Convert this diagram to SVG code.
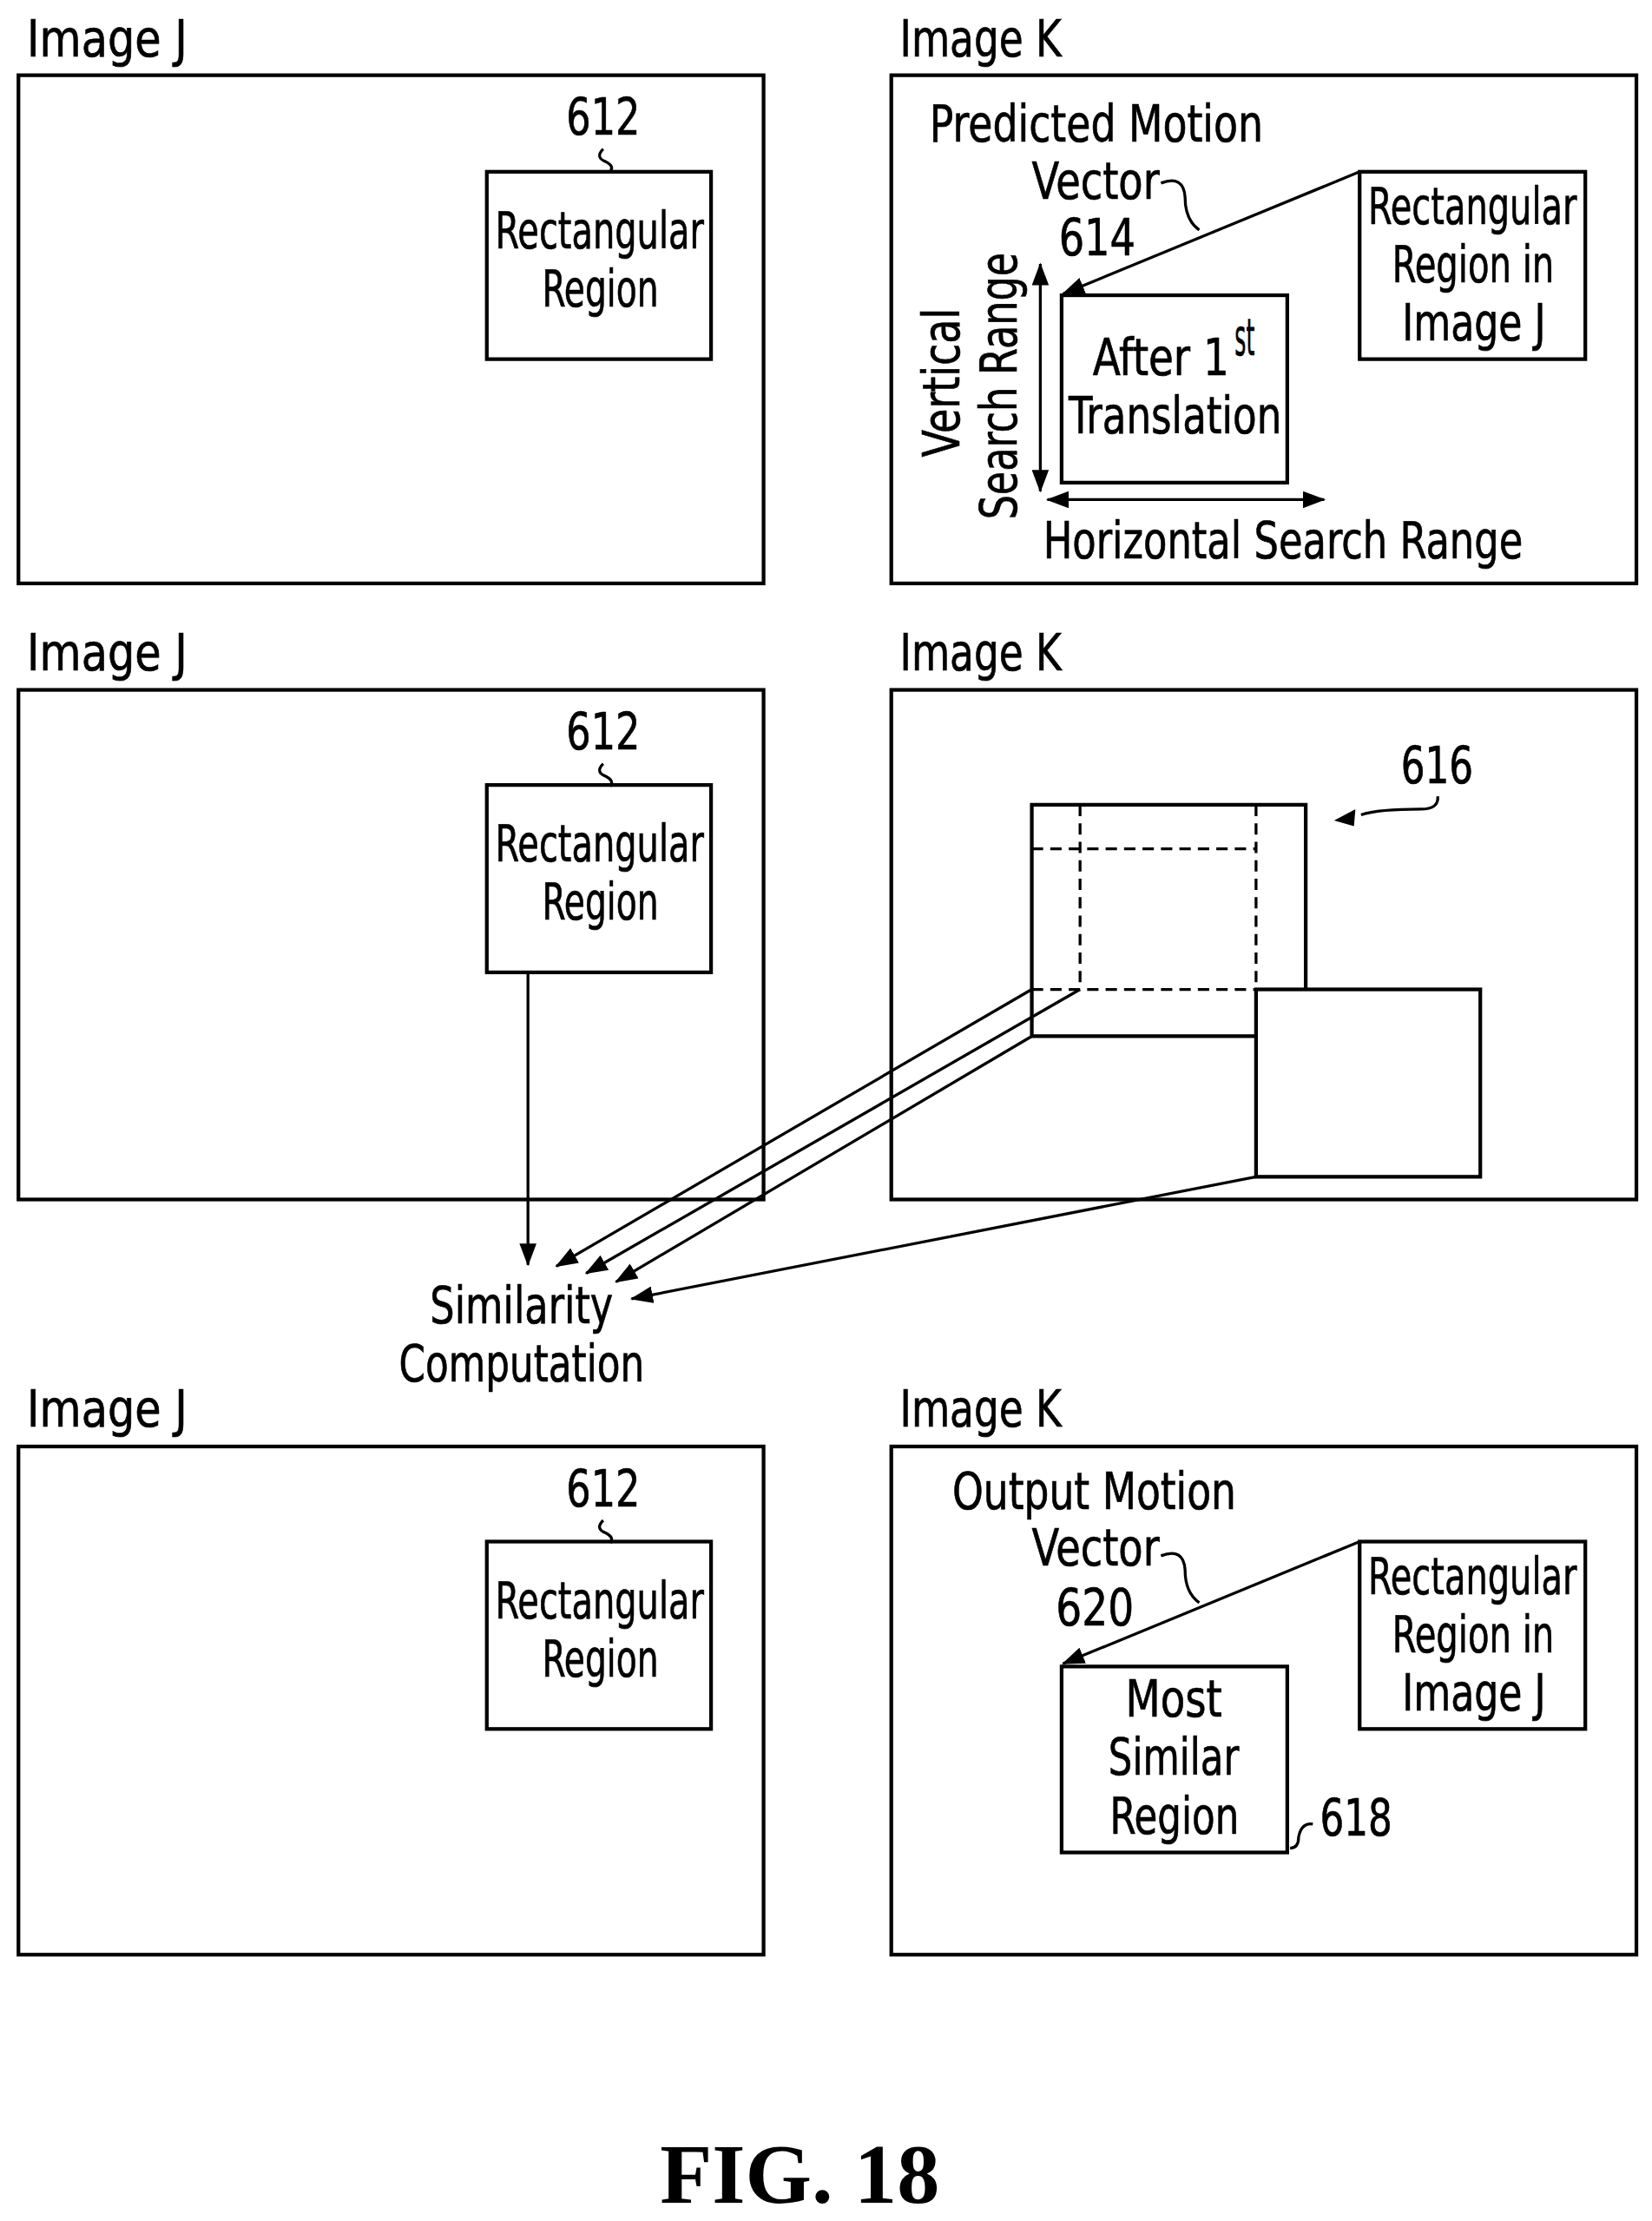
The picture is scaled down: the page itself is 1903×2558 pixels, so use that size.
<svg xmlns="http://www.w3.org/2000/svg" width="1903" height="2558" viewBox="0 0 1903 2558">
<style>
.b{fill:none;stroke:#000;stroke-width:2.6}
.l{fill:none;stroke:#000;stroke-width:2}
.d{fill:none;stroke:#000;stroke-width:2;stroke-dasharray:8,5}
text{font-family:"DejaVu Sans Condensed","DejaVu Sans",sans-serif;font-size:36px;fill:#000;stroke:#000;stroke-width:0.4}
.f{font-family:"Liberation Serif",serif;font-weight:bold;font-size:60px;stroke:none}
</style>
<defs>
<marker id="a" markerUnits="userSpaceOnUse" markerWidth="16" markerHeight="12" refX="15" refY="6" orient="auto-start-reverse"><path d="M0,0 L16,6 L0,12 z" fill="#000"/></marker>
</defs>
<rect width="1903" height="2558" fill="#fff"/>
<g transform="scale(1.6349)">
<g id="j1">
<text x="19" y="40" textLength="113" lengthAdjust="spacingAndGlyphs">Image J</text>
<rect class="b" x="13" y="53" width="525" height="358"/>
<text x="399" y="95" textLength="52" lengthAdjust="spacingAndGlyphs">612</text>
<path class="l" d="M425,105 q-6,6 2,9 q6,3 3,7"/>
<rect class="b" x="343" y="121" width="158" height="132"/>
<text x="349" y="175" textLength="147" lengthAdjust="spacingAndGlyphs">Rectangular</text>
<text x="382" y="216" textLength="82" lengthAdjust="spacingAndGlyphs">Region</text>
</g>
<g id="k1">
<text x="634" y="40" textLength="114" lengthAdjust="spacingAndGlyphs">Image K</text>
<rect class="b" x="628" y="53" width="525" height="358"/>
<text x="655" y="100" textLength="235" lengthAdjust="spacingAndGlyphs">Predicted Motion</text>
<text x="727" y="140" textLength="90" lengthAdjust="spacingAndGlyphs">Vector</text>
<text x="746" y="180" textLength="54" lengthAdjust="spacingAndGlyphs">614</text>
<path class="l" d="M818,129 q16,-6 17,10 q0,16 10,23"/>
<rect class="b" x="958" y="121" width="159" height="132"/>
<text x="964" y="158" textLength="147" lengthAdjust="spacingAndGlyphs">Rectangular</text>
<text x="981" y="199" textLength="114" lengthAdjust="spacingAndGlyphs">Region in</text>
<text x="988" y="240" textLength="101" lengthAdjust="spacingAndGlyphs">Image J</text>
<rect class="b" x="748" y="208" width="159" height="132"/>
<text x="770" y="264" textLength="96" lengthAdjust="spacingAndGlyphs">After 1</text>
<text x="870" y="250" font-size="18" textLength="14" lengthAdjust="spacingAndGlyphs">st</text>
<text x="753" y="305" textLength="150" lengthAdjust="spacingAndGlyphs">Translation</text>
<text x="735" y="393" textLength="338" lengthAdjust="spacingAndGlyphs">Horizontal Search Range</text>
<text transform="translate(676,322) rotate(-90)" textLength="105" lengthAdjust="spacingAndGlyphs">Vertical</text>
<text transform="translate(716,366) rotate(-90)" textLength="188" lengthAdjust="spacingAndGlyphs">Search Range</text>
</g>
<g id="j2">
<text x="19" y="472" textLength="113" lengthAdjust="spacingAndGlyphs">Image J</text>
<rect class="b" x="13" y="486" width="525" height="359"/>
<text x="399" y="528" textLength="52" lengthAdjust="spacingAndGlyphs">612</text>
<path class="l" d="M425,538 q-6,6 2,9 q6,3 3,7"/>
<rect class="b" x="343" y="553" width="158" height="132"/>
<text x="349" y="607" textLength="147" lengthAdjust="spacingAndGlyphs">Rectangular</text>
<text x="382" y="648" textLength="82" lengthAdjust="spacingAndGlyphs">Region</text>
</g>
<g id="k2">
<text x="634" y="472" textLength="114" lengthAdjust="spacingAndGlyphs">Image K</text>
<rect class="b" x="628" y="486" width="525" height="359"/>
<path class="b" d="M920,697 V567 H727 V730 H885"/>
<rect class="b" x="885" y="697" width="158" height="132"/>
<path class="d" d="M761,567 V697 M885,567 V697 M727,598 H885 M727,697 H885"/>
<text x="987" y="552" textLength="51" lengthAdjust="spacingAndGlyphs">616</text>
</g>
<g id="j3">
<text x="19" y="1005" textLength="113" lengthAdjust="spacingAndGlyphs">Image J</text>
<rect class="b" x="13" y="1019" width="525" height="358"/>
<text x="399" y="1061" textLength="52" lengthAdjust="spacingAndGlyphs">612</text>
<path class="l" d="M425,1071 q-6,6 2,9 q6,3 3,7"/>
<rect class="b" x="343" y="1086" width="158" height="132"/>
<text x="349" y="1140" textLength="147" lengthAdjust="spacingAndGlyphs">Rectangular</text>
<text x="382" y="1181" textLength="82" lengthAdjust="spacingAndGlyphs">Region</text>
</g>
<g id="k3">
<text x="634" y="1005" textLength="114" lengthAdjust="spacingAndGlyphs">Image K</text>
<rect class="b" x="628" y="1019" width="525" height="358"/>
<text x="671" y="1063" textLength="200" lengthAdjust="spacingAndGlyphs">Output Motion</text>
<text x="727" y="1103" textLength="90" lengthAdjust="spacingAndGlyphs">Vector</text>
<text x="744" y="1145" textLength="55" lengthAdjust="spacingAndGlyphs">620</text>
<path class="l" d="M818,1096 q16,-6 17,10 q0,16 10,23"/>
<rect class="b" x="958" y="1086" width="159" height="132"/>
<text x="964" y="1123" textLength="147" lengthAdjust="spacingAndGlyphs">Rectangular</text>
<text x="981" y="1164" textLength="114" lengthAdjust="spacingAndGlyphs">Region in</text>
<text x="988" y="1205" textLength="101" lengthAdjust="spacingAndGlyphs">Image J</text>
<rect class="b" x="748" y="1174" width="159" height="131"/>
<text x="793" y="1209" textLength="68" lengthAdjust="spacingAndGlyphs">Most</text>
<text x="781" y="1250" textLength="92" lengthAdjust="spacingAndGlyphs">Similar</text>
<text x="782" y="1292" textLength="91" lengthAdjust="spacingAndGlyphs">Region</text>
<path class="l" d="M909,1302 q6,0 6,-8 q2,-10 10,-9"/>
<text x="930" y="1293" textLength="51" lengthAdjust="spacingAndGlyphs">618</text>
</g>
<g id="sim">
<text x="303" y="932" textLength="129" lengthAdjust="spacingAndGlyphs">Similarity</text>
<text x="281" y="973" textLength="173" lengthAdjust="spacingAndGlyphs">Computation</text>
</g>
<g id="connectors">
<path class="l" d="M958,121 L749,207" marker-end="url(#a)"/>
<path class="l" d="M733,186 V346" marker-start="url(#a)" marker-end="url(#a)"/>
<path class="l" d="M738,352 H933" marker-start="url(#a)" marker-end="url(#a)"/>
<path class="l" d="M1013,561 q1,9 -12,9 q-30,0 -42,4"/>
<path d="M955,570 L940,578 L954,582 z" fill="#000"/>
<path class="l" d="M372,685 V891" marker-end="url(#a)"/>
<path class="l" d="M727,697 L392,892" marker-end="url(#a)"/>
<path class="l" d="M761,697 L413,897" marker-end="url(#a)"/>
<path class="l" d="M727,730 L434,903" marker-end="url(#a)"/>
<path class="l" d="M885,829 L445,915" marker-end="url(#a)"/>
<path class="l" d="M958,1086 L749,1172" marker-end="url(#a)"/>
</g>
<text class="f" x="465" y="1552" textLength="197" lengthAdjust="spacingAndGlyphs">FIG. 18</text>
</g>
</svg>
